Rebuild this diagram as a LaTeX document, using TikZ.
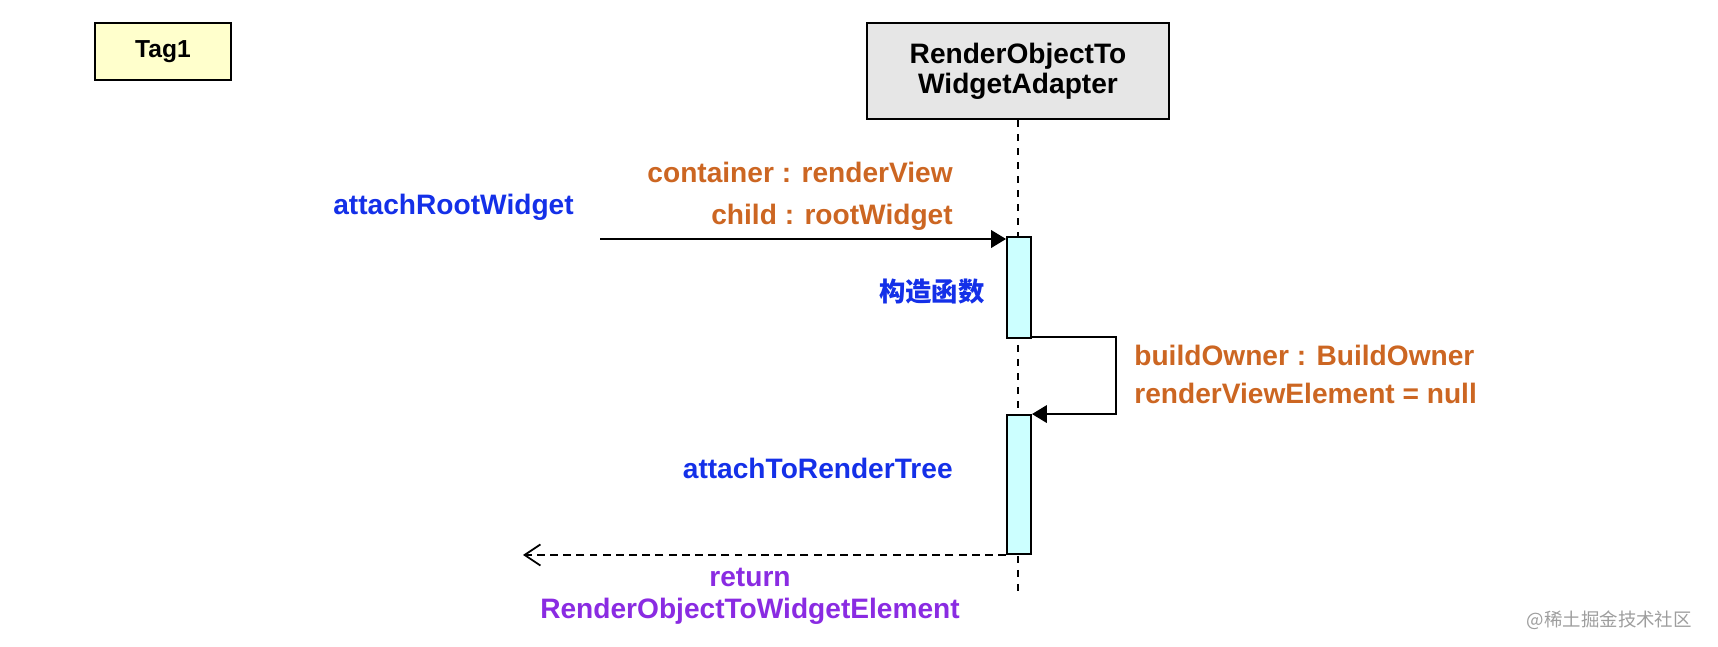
\documentclass[tikz,border=0pt]{standalone}
\usepackage{fontspec}
\setmainfont{Liberation Sans}
\newfontfamily\cjk{Noto Sans CJK SC}
\usetikzlibrary{arrows.meta}
\definecolor{tagyellow}{HTML}{FFFFCC}
\definecolor{headgray}{HTML}{E6E6E6}
\definecolor{actcyan}{HTML}{CCFFFF}
\definecolor{argorange}{HTML}{CC6622}
\definecolor{callblue}{HTML}{1430E8}
\definecolor{retpurple}{HTML}{8A2BE2}
\tikzset{lbl/.style={font=\fontsize{16}{19}\selectfont\bfseries, inner sep=0pt},
 arg/.style={lbl, text=argorange},
 call/.style={lbl, text=callblue},
 actbox/.style={draw, line width=1.1pt, fill=actcyan, minimum width=0.48cm, inner sep=0pt},
 msg/.style={line width=1.1pt, -{Triangle[length=8.5pt,width=10pt]}},
 retmsg/.style={line width=1pt, dash pattern=on 4.5pt off 3pt, -{Straight Barb[length=9pt,width=12pt]}},
 }

\begin{document}
\begin{tikzpicture}
        \useasboundingbox (0, 0) rectangle (34.36, -12.92);
        \node (tag) [draw, line width=1.4pt, fill=tagyellow, minimum width=2.72cm, minimum height=1.14cm,
            font=\fontsize{14}{16}\selectfont\bfseries] at (3.26, -1.03) {Tag1};
        \node (adapter) [draw, line width=1.1pt, fill=headgray, minimum width=6.04cm, minimum height=1.92cm,
            align=center, font=\fontsize{16}{17}\selectfont\bfseries] at (20.36, -1.42) {RenderObjectTo\\WidgetAdapter};
        \coordinate (lifeEnd) at (20.36, -11.94);
        \draw[line width=1pt, dash pattern=on 4pt off 4pt] (adapter.south) -- (lifeEnd);
        % activations
        \node (act1) [actbox, minimum height=2.02cm] at (20.38, -5.75) {};
        \node (act2) [actbox, minimum height=2.78cm] at (20.38, -9.69) {};
        % messages
        \coordinate (callStart) at (12.0, -4.78);
        \coordinate (selfTurn) at (22.32, -6.74);
        \coordinate (retEnd) at (10.46, -11.08);
        \draw[msg] (callStart) -- (callStart -| act1.west);
        \draw[msg] (act1.south east |- selfTurn) -- (selfTurn) |- (act2.north east);
        \draw[retmsg] (act2.south west) -- (act2.south west -| retEnd);
        % labels
        \node (rootCall) [call] at (9.07, -4.14) {attachRootWidget};
        \node (argsIn) [arg, align=right, anchor=east, font=\fontsize{16}{24}\selectfont\bfseries] at (19.06, -3.92)
            {container : renderView\\child : rootWidget};
        \node (ctor) [call, anchor=east, font=\fontsize{15}{18}\selectfont\cjk\bfseries] at (19.7, -5.84) {构造函数};
        \node (argsSelf) [arg, align=left, anchor=west, font=\fontsize{16}{21.6}\selectfont\bfseries] at (22.68, -7.48)
            {buildOwner : BuildOwner\\renderViewElement = null};
        \node (attach) [call, anchor=east] at (19.06, -9.36) {attachToRenderTree};
        \node (retVal) [lbl, text=retpurple, align=center, font=\fontsize{16}{18.2}\selectfont\bfseries] at (15.0, -11.92)
            {return\\RenderObjectToWidgetElement};
        \node (mark) [anchor=east, text=black!38, font=\fontsize{10.5}{12}\selectfont\cjk] at (33.96, -12.4) {@稀土掘金技术社区};
    \end{tikzpicture}
\end{document}
